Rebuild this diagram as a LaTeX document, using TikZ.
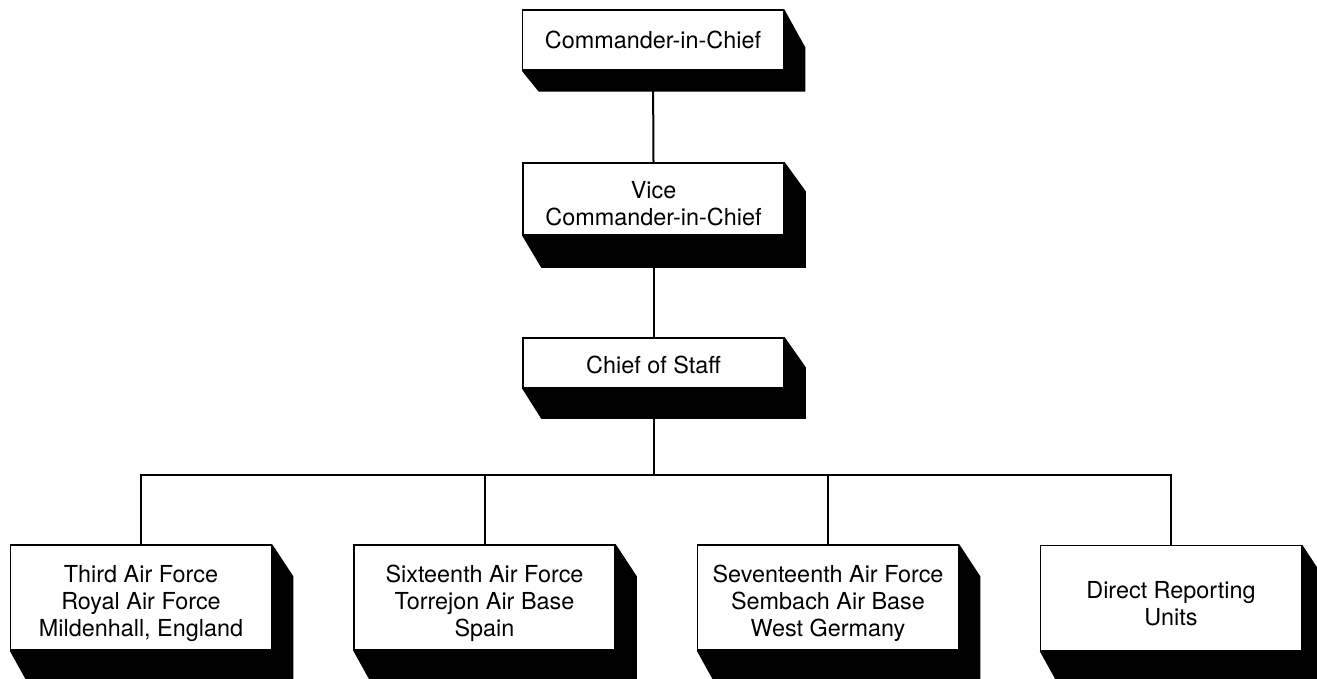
\documentclass[tikz,border=0pt]{standalone}
\usepackage{fontspec}
\setmainfont{TeX Gyre Heros}
\usetikzlibrary{backgrounds}
\newcommand\boxshade[4]{%
  \fill (#1.north east) -- ([shift={(21,#2)}]#1.north east) -- ([shift={(21,#3)}]#1.south east)
    -- ([shift={(#4,#3)}]#1.south west) -- (#1.south west) -- cycle;}
\newcommand\lowerby[1]{\rule{0pt}{#1pt}}
\begin{document}
\begin{tikzpicture}[x=1pt,y=-1pt,
  orgbox/.style={draw=black,line width=1.5pt,fill=white,inner sep=0pt,align=center,
    minimum width=261pt,font=\fontsize{23.4}{27}\selectfont},
  link/.style={line width=2pt}]
\useasboundingbox (0,0) rectangle (1317,679);
\node[orgbox,minimum height=60pt] (cic) at (653,40) {Commander-in-Chief};
\node[orgbox,minimum height=72pt] (vice) at (653.5,199) {\lowerby{26}Vice\\Commander-in-Chief};
\node[orgbox,minimum height=50pt] (cos) at (653.5,363) {\lowerby{21}Chief of Staff};
\node[orgbox,minimum height=105pt] (third) at (141,597.5) {\lowerby{29}Third Air Force\\Royal Air Force\\Mildenhall, England};
\node[orgbox,minimum height=105pt] (sixteenth) at (484.5,597.5) {\lowerby{29}Sixteenth Air Force\\Torrejon Air Base\\Spain};
\node[orgbox,minimum height=105pt] (seventeenth) at (828,597.5) {\lowerby{29}Seventeenth Air Force\\Sembach Air Base\\West Germany};
\node[orgbox,minimum height=105pt] (dru) at (1171,598) {\lowerby{29}Direct Reporting\\Units};
\coordinate (bus) at (652,475);
\begin{scope}[on background layer]
\draw[link] (cic.south) -- (vice.north);
\draw[link] (vice.south) -- (cos.north);
\draw[link] (cos.south) -- (cos.south |- bus);
\draw[link] (third.north) |- (bus) -| (dru.north);
\draw[link] (sixteenth.north) -- (sixteenth.north |- bus);
\draw[link] (seventeenth.north) -- (seventeenth.north |- bus);
\boxshade{cic}{38}{21}{17}
\boxshade{vice}{29}{32}{19}
\boxshade{cos}{30}{30}{19}
\boxshade{third}{32}{45}{25}
\boxshade{sixteenth}{32}{45}{25}
\boxshade{seventeenth}{32}{45}{25}
\boxshade{dru}{32}{45}{25}
\end{scope}
\end{tikzpicture}
\end{document}
